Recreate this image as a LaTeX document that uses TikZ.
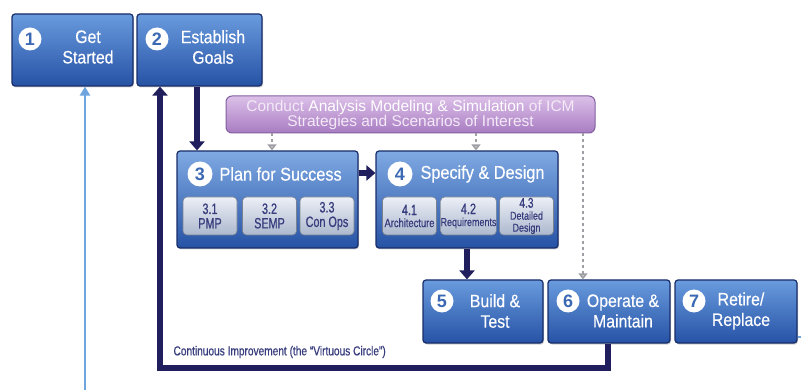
\documentclass[tikz,border=0pt]{standalone}
\usepackage{fontspec}
\setmainfont{Liberation Sans}
\newfontfamily\cond[FakeStretch=0.88,FakeBold=0.4]{Liberation Sans}
\newfontfamily\narrow[FakeStretch=0.78,FakeBold=0.6]{Liberation Sans}
\newfontfamily\subnum[FakeStretch=0.72,FakeBold=0.6]{Liberation Sans}
\usetikzlibrary{arrows.meta,shadows}
\definecolor{boxtop}{RGB}{105,155,222}
\definecolor{boxbot}{RGB}{38,82,165}
\definecolor{boxedge}{RGB}{25,45,105}
\definecolor{navy}{RGB}{32,30,92}
\definecolor{subtop}{RGB}{236,239,246}
\definecolor{subbot}{RGB}{172,184,206}
\definecolor{subtext}{RGB}{55,60,125}
\definecolor{purtop}{RGB}{220,192,232}
\definecolor{purbot}{RGB}{168,124,194}
\definecolor{puredge}{RGB}{130,95,160}
\definecolor{lightblue}{RGB}{110,165,222}
\definecolor{dashgray}{RGB}{158,158,165}
\definecolor{numblue}{RGB}{60,105,180}
\tikzset{
  bluebox/.style={draw=boxedge, line width=1.2pt, rounded corners=3pt,
    top color=boxtop, bottom color=boxbot, inner sep=0pt,
    drop shadow={shadow xshift=1pt, shadow yshift=-1.5pt, opacity=0.35}},
  bigbox/.style={bluebox, top color=boxtop!85!white, bottom color=boxbot},
  subbox/.style={draw=subbot!70!black, line width=0.6pt, rounded corners=4pt,
    top color=subtop, bottom color=subbot, inner sep=0pt,
    minimum width=54pt, minimum height=38pt, align=center,
    text=subtext, font=\subnum\fontsize{15}{14.5}\selectfont},
  smallsub/.style={subbox, font=\narrow\fontsize{11.5}{12}\selectfont},
  purplebox/.style={draw=puredge, line width=1pt, rounded corners=6pt,
    top color=purtop, bottom color=purbot, inner sep=0pt, align=center},
  numcirc/.style={circle, fill=white, inner sep=0pt, minimum size=23pt,
    text=numblue, font=\bfseries\fontsize{18}{18}\selectfont},
  boxtext/.style={text=white, align=center, font=\cond\fontsize{18}{20.5}\selectfont},
  titletext/.style={text=white, font=\cond\fontsize{18.5}{20}\selectfont, anchor=west},
  navyarrow/.style={draw=navy, line width=6pt, -{Triangle[length=9pt,width=15pt]}},
  dasharrow/.style={draw=dashgray, line width=1.6pt, dashed,
    -{Triangle[length=6pt,width=9pt,fill=dashgray!60!white]}},
  bluearrow/.style={draw=lightblue, line width=2.5pt, -{Triangle[length=9pt,width=10pt]}},
  blueline/.style={draw=lightblue, line width=2.5pt},
}
\begin{document}
\begin{tikzpicture}[x=1pt,y=-1pt]
\useasboundingbox[fill=white] (0,0) rectangle (801,390);

% main boxes
\node[bluebox, minimum width=121pt, minimum height=72pt] (b1) at (72.5,50) {};
\node[bluebox, minimum width=125pt, minimum height=72pt] (b2) at (199.5,50) {};
\node[purplebox, minimum width=369pt, minimum height=37pt] (pa) at (410.5,114.5) {};
\node[bigbox, minimum width=181pt, minimum height=97pt] (b3) at (267.5,199.5) {};
\node[bigbox, minimum width=182pt, minimum height=97pt] (b4) at (467,199.5) {};
\node[bluebox, minimum width=120pt, minimum height=63pt] (b5) at (483,311.5) {};
\node[bluebox, minimum width=122pt, minimum height=63pt] (b6) at (609,311.5) {};
\node[bluebox, minimum width=122pt, minimum height=63pt] (b7) at (736,311.5) {};

% contents of boxes
\node[numcirc] (n1) at (30,39) {1};
\node[boxtext] (t1) at (88,47) {Get\\Started};
\node[numcirc] (n2) at (157,39) {2};
\node[boxtext] (t2) at (213,47) {Establish\\Goals};

\node[text=purtop!35!white, align=center, font=\fontsize{15.5}{15}\selectfont] (pt) at (pa.center)
  {Conduct \textcolor{white}{Analysis Modeling \& Simulation} of ICM\\Strategies and Scenarios of Interest};

\node[numcirc, minimum size=25pt] (n3) at (200,174) {3};
\node[titletext] (t3) at (216,174) {Plan for Success};
\node[subbox] (s31) at (210,216) {3.1\\PMP};
\node[subbox] (s32) at (269.5,216) {3.2\\SEMP};
\node[subbox] (s33) at (327,216) {3.3\\Con Ops};

\node[numcirc, minimum size=25pt] (n4) at (400,174) {4};
\node[titletext] (t4) at (417,174) {Specify \& Design};
\node[smallsub] (s41) at (409.5,216) {\subnum\fontsize{15}{15}\selectfont 4.1\\\narrow\fontsize{12}{14}\selectfont Architecture};
\node[smallsub] (s42) at (468.5,216) {\subnum\fontsize{15}{15}\selectfont 4.2\\\narrow\fontsize{11.5}{14}\selectfont Requirements};
\node[smallsub] (s43) at (526.5,216) {\subnum\fontsize{14}{13}\selectfont 4.3\\\narrow\fontsize{11.5}{11.5}\selectfont Detailed\\Design};

\node[numcirc] (n5) at (442,301) {5};
\node[boxtext] (t5) at (495,311) {Build \&\\Test};
\node[numcirc] (n6) at (568,301) {6};
\node[boxtext] (t6) at (623,311) {Operate \&\\Maintain};
\node[numcirc] (n7) at (694,301) {7};
\node[boxtext] (t7) at (741,311) {Retire/\\Replace};

% connectors
\draw[navyarrow] ([xshift=-2.5pt]b2.south) -- ([xshift=-2.5pt]b2.south |- b3.north);
\draw[navyarrow] ([yshift=26.5pt]b3.east) -- ([yshift=26.5pt]b3.east -| b4.west);
\draw[navyarrow] (b4.south) -- (b4.south |- b5.north);
\draw[navyarrow] ([xshift=-1pt]b6.south) -- ++(0,24) -| ([xshift=-39.5pt]b2.south);

\draw[dasharrow] (pa.south -| 272,0) -- (b3.north -| 272,0);
\draw[dasharrow] (pa.south -| 476,0) -- (b4.north -| 476,0);
\draw[dasharrow] (pa.south -| 583,0) -- (b6.north -| 583,0);

\coordinate (lb) at (85,390);
\draw[bluearrow] (lb) -- (lb |- b1.south);
\coordinate (rb) at (801,337);
\draw[blueline] (rb -| b7.east) -- (rb);

\node[anchor=west, text=subtext, font=\narrow\fontsize{13}{13}\selectfont] (ci) at (170,352)
  {Continuous Improvement (the “Virtuous Circle”)};
\end{tikzpicture}
\end{document}
